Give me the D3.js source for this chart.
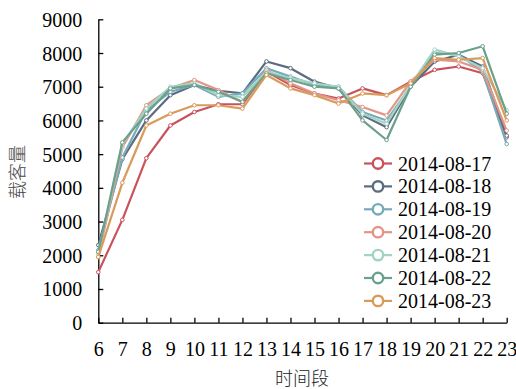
<!DOCTYPE html>
<html><head><meta charset="utf-8">
<script src="https://cdn.jsdelivr.net/npm/d3@7"></script>
<style>
html,body{margin:0;padding:0;background:#fff;}
svg{display:block;}
</style>
</head><body>
<svg id="chart" width="516" height="389"></svg>
<script>
const hours = ["6","7","8","9","10","11","12","13","14","15","16","17","18","19","20","21","22","23"];
const seriesNames = ["2014-08-17","2014-08-18","2014-08-19","2014-08-20","2014-08-21","2014-08-22","2014-08-23"];
const s0817 = [1500,3050,4880,5850,6250,6480,6480,7450,7050,6800,6650,6950,6750,7150,7500,7600,7400,5500];
const s0818 = [2300,4850,6000,6750,7050,6880,6800,7750,7550,7150,6950,6150,5800,7000,7750,7950,7600,5550];
const s0819 = [2150,4900,6300,6850,7050,6700,6800,7550,7300,7050,7000,6250,6000,7000,8000,7950,7450,5300];
const s0820 = [1950,5200,6450,6950,7200,6900,6550,7500,7100,6800,6600,6400,6150,7150,7800,7750,7500,5700];
const s0821 = [2050,5300,6350,7000,7100,6750,6700,7450,7250,7100,7000,6200,5900,7050,8100,7900,7550,6300];
const s0822 = [2100,5350,6200,6950,7050,6850,6550,7400,7200,7000,6950,6000,5420,7000,7950,8000,8200,6200];
const s0823 = [1950,4150,5850,6200,6450,6450,6350,7350,6950,6750,6500,6800,6750,7100,7850,7800,7850,6000];
const seriesValues = [s0817,s0818,s0819,s0820,s0821,s0822,s0823];
const colors = ["#c9535c","#5b6b80","#76acba","#e3958a","#a2d4c3","#6c9f8c","#d99a5a"];
const yTicks = [0,1000,2000,3000,4000,5000,6000,7000,8000,9000];

const SERIF = "'Liberation Serif'";
const CJK = "'Noto Sans CJK SC'";
const svg = d3.select("#chart");
const x = d3.scalePoint().domain(hours).range([98.3, 506.7]);
const y = d3.scaleLinear().domain([0, 9000]).range([322.7, 19.3]);

// axes
const yAxis = svg.append("g").attr("transform", "translate(98.3,0)")
  .call(d3.axisLeft(y).tickValues(yTicks).tickSizeInner(-5).tickSizeOuter(0).tickPadding(16).tickFormat(d3.format("d")));
yAxis.attr("font-family", null).attr("font-size", null);
yAxis.selectAll("text").style("font-family", SERIF).style("font-size", "20px").attr("fill", "#000").attr("dy", "0.35em");
yAxis.select(".domain").attr("stroke", "#000").attr("stroke-width", 1.3);
yAxis.selectAll(".tick line").attr("stroke", "#000").attr("stroke-width", 1.3);

const xAxis = svg.append("g").attr("transform", "translate(0,322.7)")
  .call(d3.axisBottom(x).tickSizeInner(-5).tickSizeOuter(0).tickPadding(19));
xAxis.attr("font-family", null).attr("font-size", null);
xAxis.selectAll("text").style("font-family", SERIF).style("font-size", "20px").attr("fill", "#000");
xAxis.select(".domain").attr("stroke", "#000").attr("stroke-width", 1.3);
xAxis.selectAll(".tick line").attr("stroke", "#000").attr("stroke-width", 1.3);

// titles
svg.append("text").attr("x", 302).attr("y", 385).attr("text-anchor", "middle")
  .style("font-family", CJK).style("font-size", "18px").style("font-weight", "300").attr("fill", "#222").text("时间段");
svg.append("text").attr("transform", "translate(24,172) rotate(-90)").attr("text-anchor", "middle")
  .style("font-family", CJK).style("font-size", "18px").style("font-weight", "300").attr("fill", "#444").text("载客量");

// lines
const line = d3.line().x((d, i) => x(hours[i])).y(d => y(d));
seriesValues.forEach((vals, k) => {
  const g = svg.append("g");
  g.append("path").datum(vals).attr("d", line).attr("fill", "none")
    .attr("stroke", colors[k]).attr("stroke-width", 2.2).attr("stroke-linejoin", "round");
  g.selectAll("circle").data(vals).join("circle")
    .attr("cx", (d, i) => x(hours[i])).attr("cy", d => y(d)).attr("r", 1.8)
    .attr("fill", "#fff").attr("stroke", colors[k]).attr("stroke-width", 1);
});

// legend
const leg = svg.append("g");
seriesNames.forEach((name, k) => {
  const cy = 163.5 + k * 22.9;
  leg.append("line").attr("x1", 364).attr("x2", 392).attr("y1", cy).attr("y2", cy)
    .attr("stroke", colors[k]).attr("stroke-width", 2.2);
  leg.append("circle").attr("cx", 378).attr("cy", cy).attr("r", 5.2)
    .attr("fill", "#fff").attr("stroke", colors[k]).attr("stroke-width", 2.4);
  leg.append("text").attr("x", 398).attr("y", cy).attr("dy", "0.35em")
    .style("font-family", SERIF).style("font-size", "20px").attr("fill", "#000").text(name);
});
</script>
</body></html>
